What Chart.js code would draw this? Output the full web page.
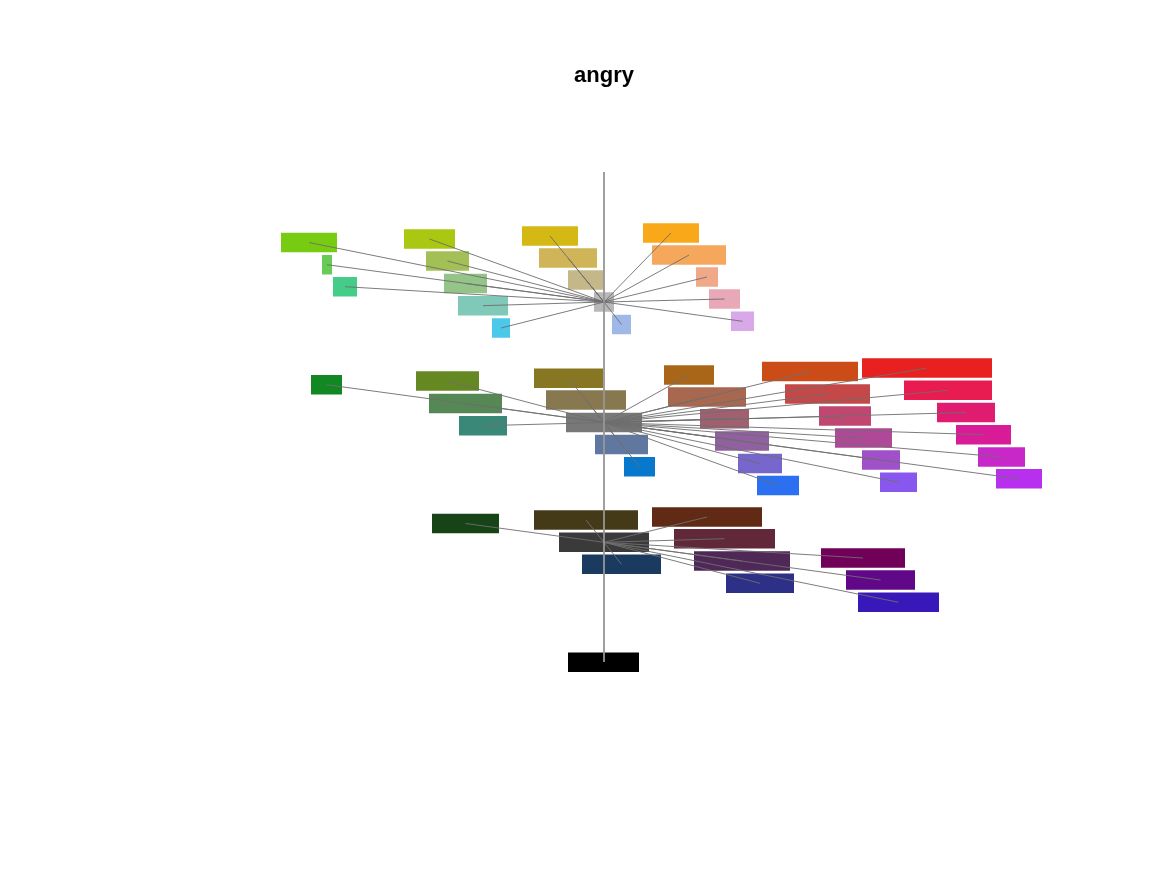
<!DOCTYPE html>
<html><head><meta charset="utf-8">
<script src="https://cdn.jsdelivr.net/npm/chart.js@4"></script>
<style>html,body{margin:0;padding:0;background:#fff}#wrap{width:1167px;height:875px;position:relative}</style>
</head><body><div id="wrap"><canvas id="c"></canvas></div>
<script>
const chartTitle = 'angry';

// hubs (light / medium / dark) on the vertical axis
const hubNames  = ['light', 'medium', 'dark'];
const hubColors = ['#b8b8b8', '#787878', '#3a3a3a'];
const hubLeft   = [594, 566, 559];
const hubRight  = [614, 642, 649];
const hubX      = [604, 604, 604];
const hubY      = [302, 422.5, 542.3];

// vertical axis
const axisX = [604, 604];
const axisY = [172, 662];

// bottom (black) node
const baseColor = '#000000';
const baseLeft = 568, baseRight = 639, baseY = 662.3;

// light level
const lightColors = ['#77cc11','#66cc55','#44cc88','#aac811','#a2c055','#94c487','#80c8b8','#4cc8e8','#d4b814','#d0b458','#c5b888','#a0b8e8','#f8a818','#f5a85c','#f0a888','#e8a8b8','#d8a8e8'];
const lightLeft   = [281,322,333,404,426,444,458,492,522,539,568,612,643,652,696,709,731];
const lightRight  = [337,332,357,455,469,487,508,510,578,597,604,631,699,726,718,740,754];
const lightY      = [242.5,264.7,286.7,239,261,283.5,305.7,328,236,258,280,324.5,233,255,277,299,321.3];

// medium level
const mediumColors = ['#118822','#668822','#558855','#3a8878','#887722','#887850','#6078a0','#0878cc','#aa6618','#a86850','#a06070','#9060a0','#7766cc','#2a70f0','#cc4c18','#c44848','#c04870','#b04898','#a050c8','#8858ee','#e82020','#e81c50','#e01c70','#d81c98','#c828c8','#b830ee'];
const mediumLeft   = [311,416,429,459,534,546,595,624,664,668,700,715,738,757,762,785,819,835,862,880,862,904,937,956,978,996];
const mediumRight  = [342,479,502,507,603,626,648,655,714,746,749,769,782,799,858,870,871,892,900,917,992,992,995,1011,1025,1042];
const mediumY      = [384.7,381,403.5,425.7,378.3,400,444.5,466.8,375,397,418.7,441,463.5,485.5,371.5,394,416,438,460,482.3,368,390.3,412.5,434.7,457,478.8];

// dark level
const darkColors = ['#164416','#443a18','#1a3a60','#602a14','#602838','#502858','#2e3088','#700058','#600888','#3818b8'];
const darkLeft   = [432,534,582,652,674,694,726,821,846,858];
const darkRight  = [499,638,661,762,775,790,794,905,915,939];
const darkY      = [523.5,520,564.3,517,538.7,561,583.3,558,580,602.3];

const levels = [
  {colors: lightColors,  left: lightLeft,  right: lightRight,  y: lightY},
  {colors: mediumColors, left: mediumLeft, right: mediumRight, y: mediumY},
  {colors: darkColors,   left: darkLeft,   right: darkRight,   y: darkY}
];

const RECT_H = 19.5;
const datasets = [];

function rect(color, x0, x1, y, label) {
  // thin white outline underneath, then the coloured block
  datasets.push({data: [{x: x0 - 0.8, y}, {x: x1 + 0.8, y}], showLine: true,
    borderColor: '#ffffff', borderWidth: RECT_H + 1.6,
    borderCapStyle: 'butt', pointRadius: 0, fill: false, order: 4});
  datasets.push({label, data: [{x: x0, y}, {x: x1, y}], showLine: true,
    borderColor: color, backgroundColor: color, borderWidth: RECT_H,
    borderCapStyle: 'butt', pointRadius: 0, fill: false, order: 3});
}
function link(x0, y0, x1, y1) {
  datasets.push({data: [{x: x0, y: y0}, {x: x1, y: y1}], showLine: true,
    borderColor: 'rgba(110,110,110,0.9)', borderWidth: 1, pointRadius: 0, fill: false, order: 2});
}

// axis
datasets.push({data: [{x: axisX[0], y: axisY[0]}, {x: axisX[1], y: axisY[1]}], showLine: true,
  borderColor: 'rgba(150,150,150,0.9)', borderWidth: 2, pointRadius: 0, fill: false, order: 1});

levels.forEach((lv, li) => {
  rect(hubColors[li], hubLeft[li], hubRight[li], hubY[li], hubNames[li]);
  lv.colors.forEach((c, i) => {
    rect(c, lv.left[i], lv.right[i], lv.y[i], c);
    link(hubX[li], hubY[li], (lv.left[i] + lv.right[i]) / 2, lv.y[i]);
  });
});
rect(baseColor, baseLeft, baseRight, baseY, 'black');

const chart = new Chart(document.getElementById('c'), {
  type: 'scatter',
  data: {datasets},
  options: {
    responsive: true, maintainAspectRatio: false, animation: false, events: [],
    layout: {padding: {left: 41, right: 0, top: 0, bottom: 0}, autoPadding: false},
    scales: {
      x: {type: 'linear', min: 41, max: 1167, display: false},
      y: {type: 'linear', min: 89.4, max: 875, reverse: true, display: false}
    },
    plugins: {
      legend: {display: false}, tooltip: {enabled: false},
      title: {display: true, text: chartTitle, color: '#000',
        font: {family: '"Liberation Sans", Arial, sans-serif', size: 22, weight: 'bold'},
        padding: {top: 63, bottom: 0}}
    }
  }
});
chart.options.scales.x.min = chart.chartArea.left;
chart.options.scales.x.max = chart.chartArea.right;
chart.options.scales.y.min = chart.chartArea.top;
chart.options.scales.y.max = chart.chartArea.bottom;
chart.update('none');
</script></body></html>
